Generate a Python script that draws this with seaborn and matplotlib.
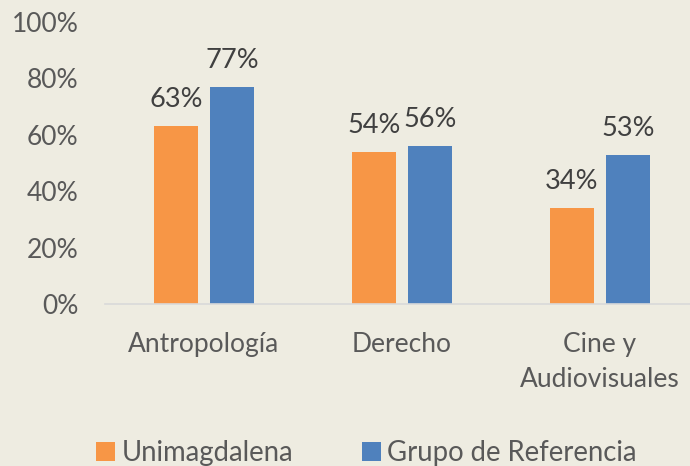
import pandas as pd
import matplotlib
matplotlib.use("Agg")
import matplotlib.pyplot as plt
import seaborn as sns

# Data
programas = ["Antropología", "Derecho", "Cine y\nAudiovisuales"]
unimagdalena = [63, 54, 34]
grupo_referencia = [77, 56, 53]
series = ["Unimagdalena", "Grupo de Referencia"]
colores = ["#F79646", "#4F81BD"]
yticks = [0, 20, 40, 60, 80, 100]

df = pd.DataFrame({
    "Programa": programas * 2,
    "Valor": unimagdalena + grupo_referencia,
    "Serie": [series[0]] * 3 + [series[1]] * 3,
})

bg = "#EEECE1"
txt = "#595959"

sns.set_theme(style="white")
plt.rcParams["font.family"] = ["Lato", "DejaVu Sans"]

W, H = 690, 466
fig = plt.figure(figsize=(6.9, 4.66), dpi=100, facecolor=bg)
ax = fig.add_axes([105 / W, 1 - 304 / H, 585 / W, (304 - 22) / H])
ax.set_facecolor(bg)

sns.barplot(data=df, x="Programa", y="Valor", hue="Serie", palette=colores,
            width=0.566, gap=0.214, linewidth=0, saturation=1, ax=ax)

for cont in ax.containers:
    ax.bar_label(cont, fmt="%d%%", padding=10, fontsize=19.5, color="#404040")

ax.set_xlim(-0.5, 2.455)
ax.set_ylim(0, 100)
ax.set_yticks(yticks)
ax.set_yticklabels([f"{v}%" for v in yticks], fontsize=19, color=txt)
ax.tick_params(axis="y", length=0, pad=19)
ax.tick_params(axis="x", length=0, pad=20, labelsize=19, labelcolor=txt)
for lbl in ax.get_xticklabels():
    lbl.set_linespacing(1.5)
ax.set_xlabel("")
ax.set_ylabel("")
for s in ["top", "right", "left"]:
    ax.spines[s].set_visible(False)
ax.spines["bottom"].set_color("#D9D9D9")
ax.spines["bottom"].set_linewidth(1.2)

handles, labels = ax.get_legend_handles_labels()
ax.get_legend().remove()
fig.legend(handles, labels, loc="center", bbox_to_anchor=(0.531, 1 - 453 / H),
           ncol=2, frameon=False, fontsize=19.8, labelcolor=txt,
           handlelength=0.68, handleheight=0.68, handletextpad=0.25,
           columnspacing=2.5)

fig.savefig("out.png", dpi=100, facecolor=bg)
